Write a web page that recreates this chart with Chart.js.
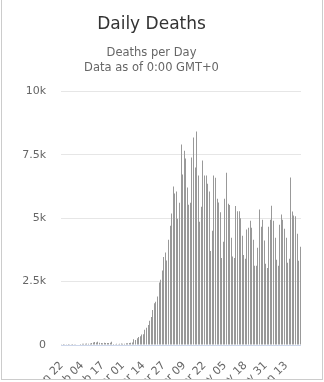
<!DOCTYPE html>
<html><head><meta charset="utf-8">
<script src="https://cdn.jsdelivr.net/npm/chart.js@4"></script>
<style>
html,body{margin:0;padding:0;background:#fff}
#wrap{position:absolute;left:1px;top:0;width:320px;height:379px;border-left:1px solid #ccc;border-right:1px solid #ccc;border-bottom:1px solid #ccc;overflow:hidden}
canvas{display:block}
</style></head>
<body><div id="wrap"><canvas id="c" width="320" height="379"></canvas></div>
<script>
const startDate = '2020-01-22';
const deaths = [
  5,1,8,6,4,10,12,2,10,12,15,20,
  40,45,50,45,55,50,60,80,95,120,100,130,90,80,70,85,80,75,80,85,130,40,10,45,30,50,55,45,50,65,70,80,85,100,
  230,200,270,320,340,410,420,600,680,790,960,1100,1380,1650,1700,1910,2460,2570,2940,3470,
  3650,3330,4150,4700,5180,6250,5970,6050,4980,5610,7900,6720,7660,7350,6210,5530,5610,7390,8180,7000,8420,6680,4860,5450,7270,6680,6680,6360,6050,3710,4500,6680,
  6590,5760,5620,5230,3430,4070,5760,6790,5570,5520,4230,3490,3430,5480,5270,5270,5000,4310,3550,3400,4550,4620,4900,4620,4150,3120,
  3120,3830,5340,4660,4940,4120,3200,3040,4660,4940,5490,4900,4230,3360,3120,4740,5140,4940,4580,4230,3240,3400,6600,5260,5100,5070,4390,3320,3870
];
const xTickLabels = ['Jan 22','Feb 04','Feb 17','Mar 01','Mar 14','Mar 27','Apr 09','Apr 22','May 05','May 18','May 31','Jun 13'];
const yTickLabels = ['0','2.5k','5k','7.5k','10k'];
const titleText = 'Daily Deaths';
const subtitleLines = ['Deaths per Day', 'Data as of 0:00 GMT+0'];

const months = ['Jan','Feb','Mar','Apr','May','Jun','Jul','Aug','Sep','Oct','Nov','Dec'];
const categories = [];
const d0 = new Date(startDate + 'T00:00:00Z');
for (let i = 0; i < deaths.length; i++) {
  const d = new Date(d0.getTime() + i * 86400000);
  categories.push(months[d.getUTCMonth()] + ' ' + String(d.getUTCDate()).padStart(2, '0'));
}

// snap the library-computed bar rectangles to whole pixels (crisp columns)
const crispBars = {
  id: 'crispBars',
  afterDatasetsUpdate(chart) {
    chart.getDatasetMeta(0).data.forEach(el => {
      const w = Math.max(1, Math.round(el.width));
      el.width = w;
      el.x = Math.floor(el.x) + (w % 2 ? 0.5 : 0);
    });
  }
};

Chart.defaults.font.family = '"DejaVu Sans", sans-serif';
new Chart(document.getElementById('c'), {
  type: 'bar',
  data: {
    labels: categories,
    datasets: [{ data: deaths, backgroundColor: '#999999', borderWidth: 0, inflateAmount: 0, barPercentage: 0.8, categoryPercentage: 0.8 }]
  },
  plugins: [crispBars],
  options: {
    responsive: false,
    devicePixelRatio: 1,
    animation: false,
    layout: { padding: { top: 0, left: 0, right: 21, bottom: 0 } },
    plugins: {
      legend: { display: false },
      tooltip: { enabled: false },
      title: { display: true, text: titleText, color: '#333333', font: { size: 17, weight: 'normal' }, padding: { top: 14, bottom: 11 } },
      subtitle: { display: true, text: subtitleLines, color: '#666666', font: { size: 11.5, lineHeight: 1.3 }, padding: { top: 0, bottom: 16 } }
    },
    scales: {
      x: {
        grid: { display: false },
        border: { display: false },
        ticks: {
          autoSkip: false, maxRotation: 45, minRotation: 45, color: '#666666', font: { size: 11 }, padding: 6,
          callback: function (v) { const l = this.getLabelForValue(v); return xTickLabels.includes(l) ? l : null; }
        },
        afterFit: (s) => { s.height = 34; }
      },
      y: {
        min: 0, max: 10000,
        ticks: { stepSize: 2500, color: '#666666', font: { size: 11 }, padding: 15, callback: (v, i) => yTickLabels[i] },
        grid: { drawTicks: false, color: (ctx) => (ctx.tick && ctx.tick.value === 0) ? '#ccd6eb' : '#e6e6e6' },
        border: { display: false },
        afterFit: (s) => { s.width = 59; }
      }
    }
  }
});
</script>
</body></html>
